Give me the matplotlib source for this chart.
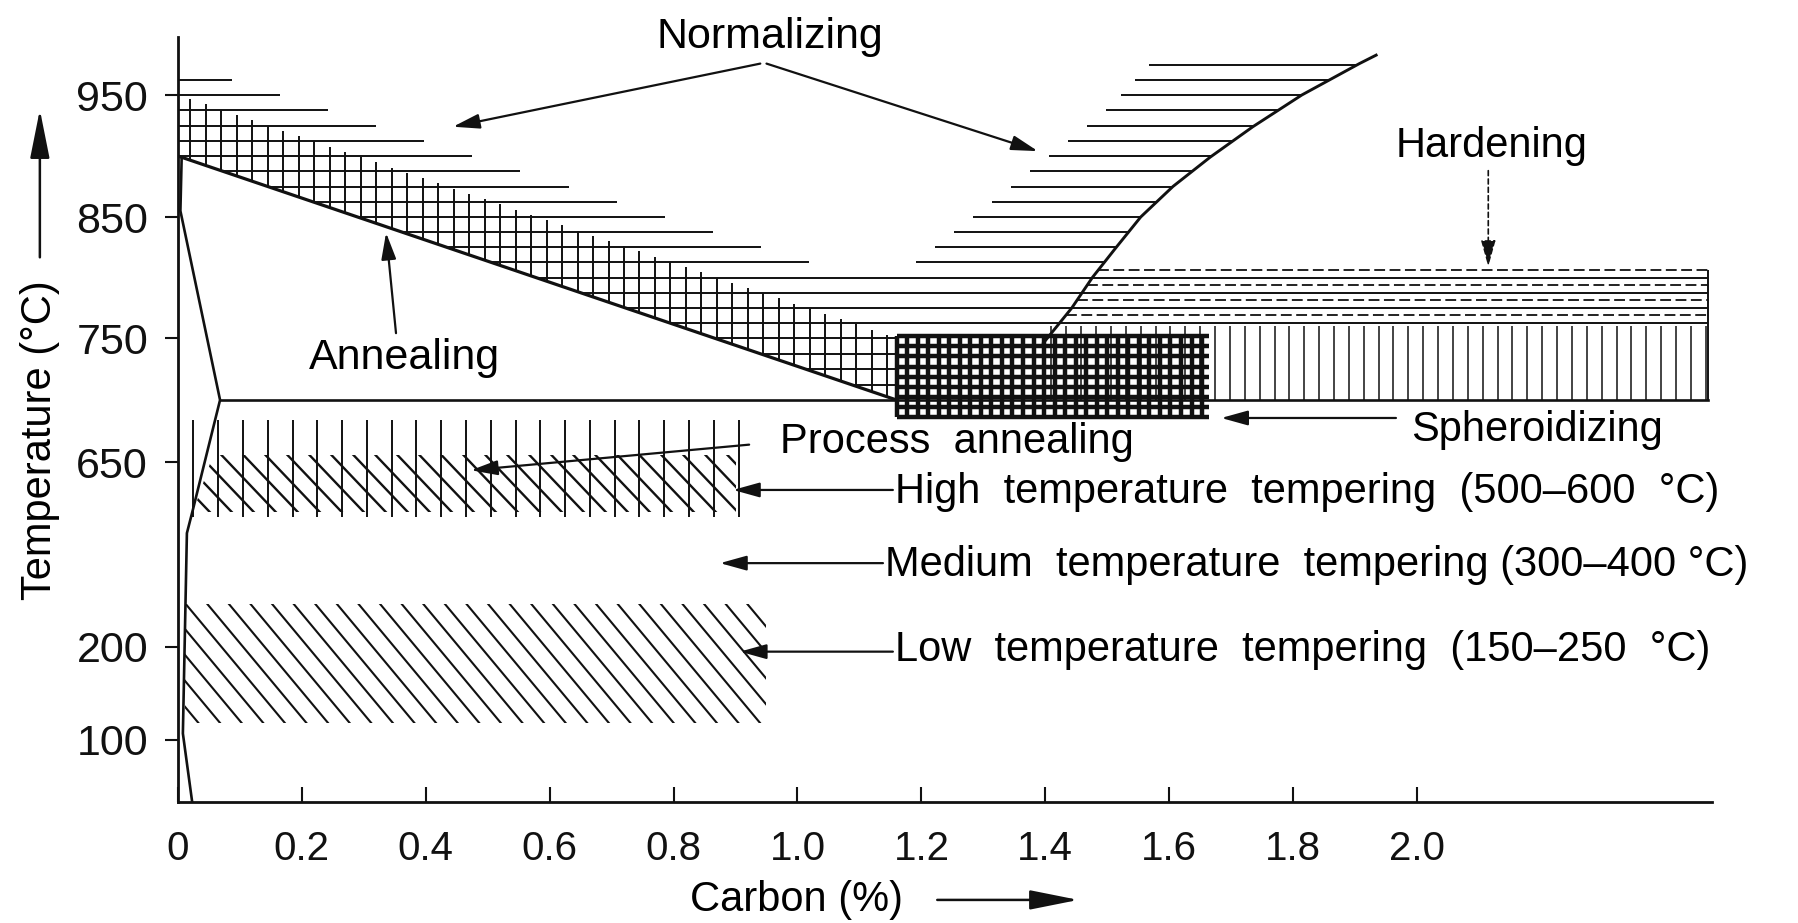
import numpy as np
import matplotlib
matplotlib.use('Agg')
import matplotlib.pyplot as plt
from matplotlib.patches import Polygon
from matplotlib.collections import LineCollection

plt.rcParams['font.family'] = ['Liberation Sans', 'DejaVu Sans']

# --- data (carbon %, temperature degC) ---
# the printed temperature axis is broken: these anchors give the printed scale
temp_anchor = [33, 100, 200, 650, 750, 850, 950, 998]
axis_row = [802, 740, 647, 462, 338, 217, 95, 37]
y_ticks = [100, 200, 650, 750, 850, 950]
x_ticks = [0, 0.2, 0.4, 0.6, 0.8, 1.0, 1.2, 1.4, 1.6, 1.8, 2.0]
x_ticklabels = ['0', '0.2', '0.4', '0.6', '0.8', '1.0', '1.2', '1.4', '1.6', '1.8', '2.0']

a3_carbon = [0.0, 1.16]
a3_temp = [900, 700]
acm_carbon = [1.397, 1.443, 1.476, 1.513, 1.554, 1.606, 1.666, 1.735, 1.814, 1.907, 1.934]
acm_temp = [746, 775, 800, 824, 850, 875, 899, 924, 950, 976, 983]
solvus_carbon = [0.006, 0.004, 0.068, 0.024, 0.0145, 0.008, 0.023]
solvus_temp = [898, 855, 700, 533, 477, 107, 33]
a1_carbon = [0.068, 2.47]
a1_temp = [700, 700]

norm_left_end_temp = [962.5, 750]       # right ends of left normalizing band
norm_left_end_carbon = [0.087, 1.407]
norm_right_start_temp = [812, 938, 976]  # left ends of right normalizing band
norm_right_start_carbon = [1.19, 1.50, 1.57]
anneal_width = 50                        # annealing band above A3
spher_carbon = [1.16, 1.665]
spher_temp = [686, 752]
hard_temp = [762.5, 806.25]
vert_carbon = [1.41, 2.47]
vert_temp = [700, 760]
proc_carbon = [0.025, 0.905]
proc_temp = [516, 684]
high_band = [(0.024, 528), (0.9, 528), (0.9, 656), (0.057, 656)]
low_band = [(0.012, 118), (0.95, 118), (0.95, 305), (0.012, 305)]
right_edge = 2.47

fig = plt.figure(figsize=(17.99, 9.23), dpi=100)
ax = fig.add_axes([0.0989, 0.1311, 0.8527, 0.8288])

t_a = np.array(temp_anchor, float)
r_a = -np.array(axis_row, float)
ax.set_yscale('function', functions=(lambda t: np.interp(t, t_a, r_a),
                                     lambda y: np.interp(y, r_a, t_a)))
ax.set_xlim(0, 2.476)
ax.set_ylim(33, 998)

K = '#111111'
HLW = 1.4


def a3_inv(t):
    return np.interp(t, a3_temp[::-1], a3_carbon[::-1])


def left_end(t):
    s = (norm_left_end_carbon[1] - norm_left_end_carbon[0]) / (norm_left_end_temp[1] - norm_left_end_temp[0])
    return norm_left_end_carbon[0] + (t - norm_left_end_temp[0]) * s


def acm(t):
    return np.interp(t, acm_temp, acm_carbon)


# normalizing / annealing horizontal lines
for t in np.arange(975, 705, -12.5):
    c0 = a3_inv(t)
    if t < 760:
        ax.hlines(t, c0, spher_carbon[0], color=K, lw=HLW)
    elif t <= 800:
        ax.hlines(t, c0, right_edge, color=K, lw=HLW)
    else:
        c1 = left_end(t)
        if c1 - c0 > 0.02:
            ax.hlines(t, c0, c1, color=K, lw=HLW)
        if norm_right_start_temp[0] <= t <= norm_right_start_temp[-1]:
            ax.hlines(t, np.interp(t, norm_right_start_temp, norm_right_start_carbon), acm(t),
                      color=K, lw=HLW)

# hardening dashed lines
for t in np.arange(hard_temp[1], hard_temp[0], -12.5):
    ax.hlines(t, acm(t), right_edge, color=K, lw=1.3, linestyles=(0, (6, 2.5)))

# annealing vertical lines
for c in np.arange(0.02, a3_carbon[1], 0.025):
    b = np.interp(c, a3_carbon, a3_temp)
    ax.vlines(c, b, min(b + anneal_width, 950), color=K, lw=HLW)

# hypereutectoid vertical band
for c in np.arange(vert_carbon[0], vert_carbon[1] + 0.001, 0.024):
    ax.vlines(c, vert_temp[0], vert_temp[1], color=K, lw=1.1)
ax.vlines(right_edge, vert_temp[0], hard_temp[1], color=K, lw=1.4)

# spheroidizing dense grid
for c in np.arange(spher_carbon[0], spher_carbon[1] + 0.001, 0.017):
    ax.vlines(c, spher_temp[0], spher_temp[1], color=K, lw=3.2)
for t in np.arange(spher_temp[0], spher_temp[1] + 0.1, 8.2):
    ax.hlines(t, spher_carbon[0], spher_carbon[1], color=K, lw=3.2)

# process annealing vertical lines
for c in np.arange(proc_carbon[0], proc_carbon[1] + 0.001, 0.04):
    ax.vlines(c, proc_temp[0], proc_temp[1], color=K, lw=HLW)

# diagonal hatching for tempering bands
pos = ax.get_position()
W = pos.width * fig.get_figwidth() * fig.dpi
H = pos.height * fig.get_figheight() * fig.dpi


def diag_hatch(pts, spacing, slope, lw):
    patch = Polygon(pts, closed=True, transform=ax.transData, fill=False, edgecolor='none')
    ax.add_patch(patch)
    run = H / slope
    segs = [[(x / W, 1), ((x + run) / W, 0)] for x in np.arange(-run, W + spacing, spacing)]
    lc = LineCollection(segs, transform=ax.transAxes, colors=K, linewidths=lw)
    lc.set_clip_path(patch)
    ax.add_collection(lc, autolim=False)


diag_hatch(high_band, 22, 1.05, 1.7)
diag_hatch(low_band, 21.6, 1.2, 1.5)

# main boundary lines
ax.plot(a3_carbon, a3_temp, color=K, lw=2.3)
ax.plot(acm_carbon, acm_temp, color=K, lw=2.1)
ax.plot(solvus_carbon, solvus_temp, color=K, lw=1.9)
ax.plot(a1_carbon, a1_temp, color=K, lw=1.9)

# labels and arrows
FS = 30
ap = dict(arrowstyle='-|>,head_length=0.9,head_width=0.25', mutation_scale=18,
          lw=1.6, color=K, shrinkA=0, shrinkB=0)
ax.text(0.955, 1002, 'Normalizing', fontsize=31, ha='center', va='center', clip_on=False)
ax.annotate('', xy=(0.444, 924), xytext=(0.94, 976), arrowprops=ap)
ax.annotate('', xy=(1.388, 904), xytext=(0.95, 976), arrowprops=ap)
ax.text(0.365, 734, 'Annealing', fontsize=31, ha='center', va='center')
ax.annotate('', xy=(0.336, 837), xytext=(0.352, 754), arrowprops=ap)
ax.text(2.121, 908, 'Hardening', fontsize=FS, ha='center', va='center')
ax.annotate('', xy=(2.115, 809), xytext=(2.115, 888),
            arrowprops=dict(ap, lw=1.2, linestyle=(0, (3, 2))))
ax.text(1.99, 676, 'Spheroidizing', fontsize=FS, ha='left', va='center')
ax.annotate('', xy=(1.684, 685.5), xytext=(1.966, 685.5), arrowprops=ap)
ax.text(0.972, 666, 'Process  annealing', fontsize=FS, ha='left', va='center')
ax.annotate('', xy=(0.473, 630), xytext=(0.922, 664), arrowprops=ap)
ax.text(1.157, 577, 'High  temperature  tempering  (500–600  °C)', fontsize=FS, ha='left', va='center')
ax.annotate('', xy=(0.896, 582), xytext=(1.154, 582), arrowprops=ap)
ax.text(1.141, 399, 'Medium  temperature  tempering (300–400 °C)', fontsize=FS, ha='left', va='center')
ax.annotate('', xy=(0.875, 404), xytext=(1.138, 404), arrowprops=ap)
ax.text(1.157, 197, 'Low  temperature  tempering  (150–250  °C)', fontsize=FS, ha='left', va='center')
ax.annotate('', xy=(0.907, 195), xytext=(1.154, 195), arrowprops=ap)

# axes styling
for s in ['top', 'right']:
    ax.spines[s].set_visible(False)
for s in ['left', 'bottom']:
    ax.spines[s].set_linewidth(2.0)
    ax.spines[s].set_color(K)
ax.set_yticks(y_ticks)
ax.set_yticklabels([str(v) for v in y_ticks])
ax.set_xticks(x_ticks)
ax.set_xticklabels(x_ticklabels)
ax.yaxis.set_minor_locator(matplotlib.ticker.NullLocator())
ax.tick_params(axis='y', direction='out', length=9.5, width=1.5, pad=12, labelsize=31, colors=K)
ax.tick_params(axis='x', direction='in', length=10.5, width=1.5, pad=20, labelsize=29, colors=K)

ax.text(-0.09, 0.473, 'Temperature (°C)', transform=ax.transAxes, rotation=90,
        fontsize=FS, ha='center', va='center')
ax.annotate('', xy=(-0.09, 0.905), xytext=(-0.09, 0.712), xycoords='axes fraction',
            arrowprops=dict(arrowstyle='-|>,head_length=1.5,head_width=0.3', mutation_scale=20,
                            lw=1.8, color=K, shrinkA=0, shrinkB=0))
ax.text(0.403, -0.128, 'Carbon (%)', transform=ax.transAxes, fontsize=FS, ha='center', va='center')
ax.annotate('', xy=(0.587, -0.128), xytext=(0.495, -0.128), xycoords='axes fraction',
            arrowprops=dict(arrowstyle='-|>,head_length=1.5,head_width=0.3', mutation_scale=20,
                            lw=1.8, color=K, shrinkA=0, shrinkB=0))

fig.savefig('out.png', dpi=100)
